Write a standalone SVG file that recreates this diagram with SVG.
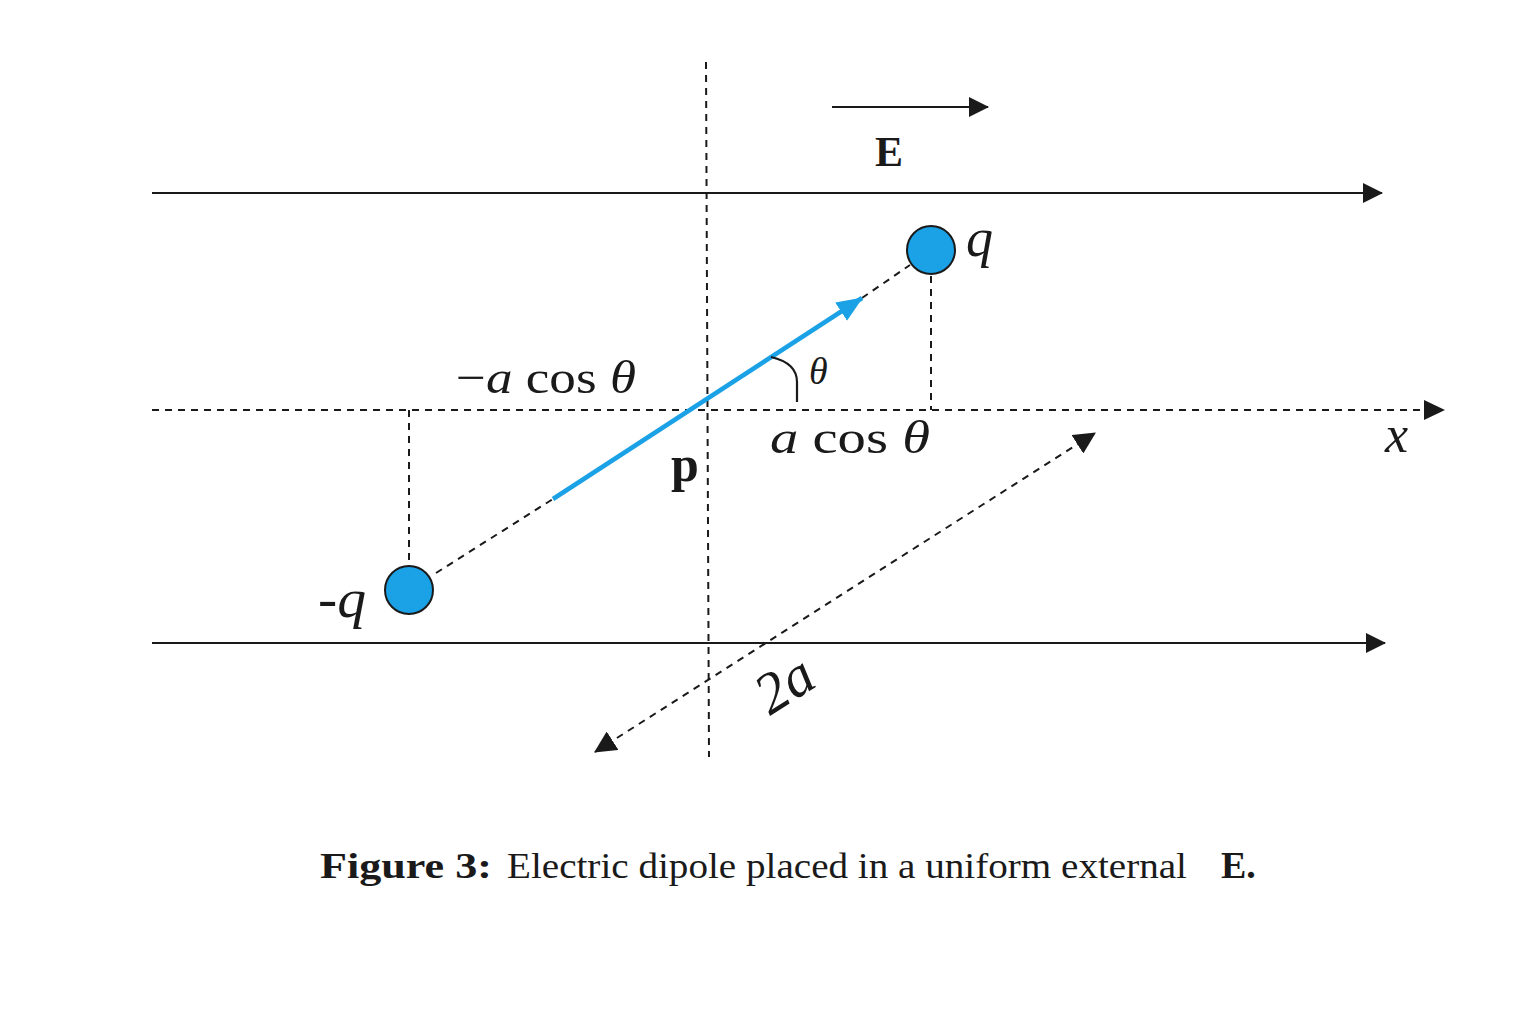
<svg xmlns="http://www.w3.org/2000/svg" width="1536" height="1024" viewBox="0 0 1536 1024">
<style>
.ln{stroke:#1a1a1a;stroke-width:2.2;fill:none}
.dash{stroke:#1a1a1a;stroke-width:2;fill:none;stroke-dasharray:7 6}
.chg{fill:#1ba1e6;stroke:#1a1a1a;stroke-width:2}
.t{font-family:"Liberation Serif","DejaVu Serif",serif;fill:#1a1a1a}
.i{font-style:italic}
.b{font-weight:bold}
</style>
<defs>
<marker id="ahb" viewBox="0 0 20 20" refX="19" refY="10" markerWidth="20" markerHeight="20" markerUnits="userSpaceOnUse" orient="auto"><path d="M0,0 L20,10 L0,20 z" fill="#1a1a1a"/></marker>
<marker id="ahblue" viewBox="0 0 24 20" refX="23" refY="10" markerWidth="26" markerHeight="22" markerUnits="userSpaceOnUse" orient="auto"><path d="M0,0 L24,10 L0,20 z" fill="#1ba1e6"/></marker>
<marker id="ahs" viewBox="0 0 20 20" refX="19" refY="10" markerWidth="22" markerHeight="22" markerUnits="userSpaceOnUse" orient="auto-start-reverse"><path d="M0,0 L20,10 L0,20 z" fill="#1a1a1a"/></marker>
</defs>
<rect width="1536" height="1024" fill="#ffffff"/>
<g id="connectors">
<line id="field-top" class="ln" x1="152" y1="193" x2="1382" y2="193" marker-end="url(#ahb)"/>
<line id="field-bottom" class="ln" x1="152" y1="643" x2="1385" y2="643" marker-end="url(#ahb)"/>
<line id="e-arrow" class="ln" x1="832" y1="107" x2="988" y2="107" marker-end="url(#ahb)"/>
<line id="x-axis" class="dash" x1="152" y1="410" x2="1426" y2="410"/>
<path d="M1424,400 L1445,410 L1424,420 z" fill="#1a1a1a"/>
<line id="y-axis" class="dash" x1="706" y1="62" x2="709" y2="757"/>
<line class="dash" x1="931" y1="276" x2="931" y2="410"/>
<line class="dash" x1="409" y1="410" x2="409" y2="565"/>
<line class="dash" x1="436" y1="573" x2="553" y2="499"/>
<line class="dash" x1="862" y1="298" x2="910" y2="265"/>
<line id="p-vector" x1="553" y1="499" x2="862" y2="298" stroke="#1ba1e6" stroke-width="4.5" marker-end="url(#ahblue)"/>
<line id="two-a" class="dash" x1="595" y1="752" x2="1095" y2="433" marker-start="url(#ahs)" marker-end="url(#ahs)"/>
<path id="theta-arc" class="ln" d="M771,357 Q797,363 797,382 L797,402"/>
</g>
<g id="charge-pos"><circle class="chg" cx="931" cy="250" r="24"/><text class="t i" x="966" y="256" font-size="54">q</text></g>
<g id="charge-neg"><circle class="chg" cx="409" cy="590" r="24"/><text class="t i" x="318" y="617" font-size="54" textLength="48" lengthAdjust="spacingAndGlyphs">-q</text></g>
<g id="labels">
<text class="t b" x="875" y="166" font-size="42">E</text>
<text class="t i" x="809" y="384" font-size="38">θ</text>
<text class="t" x="770" y="453" font-size="46" textLength="160" lengthAdjust="spacingAndGlyphs"><tspan class="i">a</tspan> cos <tspan class="i">θ</tspan></text>
<text class="t" x="456" y="393" font-size="46" textLength="180" lengthAdjust="spacingAndGlyphs">−<tspan class="i">a</tspan> cos <tspan class="i">θ</tspan></text>
<text class="t b" x="671" y="481" font-size="50">p</text>
<text class="t i" x="1385" y="452" font-size="52">x</text>
<text class="t i" x="0" y="0" font-size="58" transform="translate(770,716) rotate(-32.5)">2a</text>
</g>
<g id="caption">
<text class="t" y="878" font-size="36"><tspan class="b" x="320" textLength="172" lengthAdjust="spacingAndGlyphs">Figure 3:</tspan><tspan x="507" textLength="680" lengthAdjust="spacingAndGlyphs">Electric dipole placed in a uniform external</tspan><tspan class="b" x="1221" font-size="38">E.</tspan></text>
</g>
</svg>
